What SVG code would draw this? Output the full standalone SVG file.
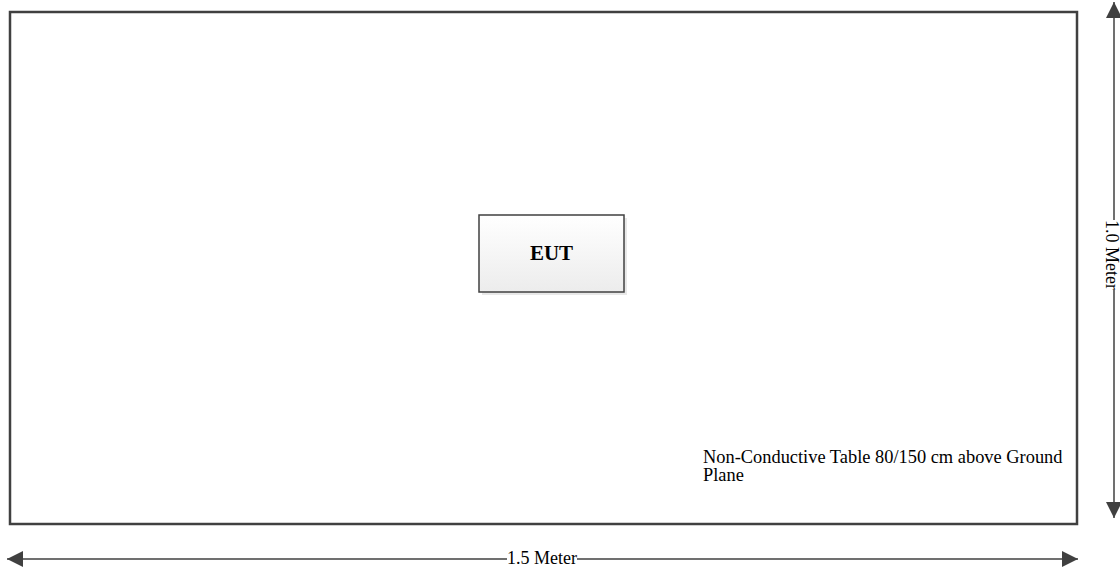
<svg xmlns="http://www.w3.org/2000/svg" width="1120" height="576" viewBox="0 0 1120 576">
<style>
.t{font-family:"Liberation Serif","Times New Roman",serif;fill:#000}
.dim{stroke:#404040;stroke-width:1.5;fill:none}
</style>
<defs>
<linearGradient id="g" x1="0" y1="0" x2="0" y2="1">
<stop offset="0" stop-color="#ffffff"/>
<stop offset="1" stop-color="#ececec"/>
</linearGradient>
<marker id="ah" viewBox="0 0 10 10" refX="10" refY="5" markerWidth="16" markerHeight="16" markerUnits="userSpaceOnUse" orient="auto-start-reverse">
<path d="M0,0 L10,5 L0,10 z" fill="#404040"/>
</marker>
</defs>
<rect width="1120" height="576" fill="#fff"/>
<g id="table">
<rect x="10" y="12" width="1067" height="512" fill="#fff" stroke="#404040" stroke-width="2.5"/>
<text class="t" x="703" y="463" font-size="18.4">Non-Conductive Table 80/150 cm above Ground</text>
<text class="t" x="703" y="481" font-size="18.4">Plane</text>
</g>
<g id="eut">
<rect x="482" y="218" width="145" height="77" fill="#d8d8d8" opacity="0.6"/>
<rect x="479" y="215" width="145" height="77" fill="url(#g)" stroke="#404040" stroke-width="1.5"/>
<text class="t" x="551.5" y="260" font-size="21" font-weight="bold" text-anchor="middle">EUT</text>
</g>
<g id="connectors">
<line class="dim" x1="7" y1="559" x2="507" y2="559" marker-start="url(#ah)"/>
<line class="dim" x1="577" y1="559" x2="1078" y2="559" marker-end="url(#ah)"/>
<text class="t" x="542" y="564" font-size="18" text-anchor="middle">1.5 Meter</text>
<line class="dim" x1="1114" y1="2" x2="1114" y2="220" marker-start="url(#ah)"/>
<line class="dim" x1="1114" y1="290" x2="1114" y2="518" marker-end="url(#ah)"/>
<text class="t" font-size="18" text-anchor="middle" transform="translate(1106,255) rotate(90)">1.0 Meter</text>
</g>
</svg>
